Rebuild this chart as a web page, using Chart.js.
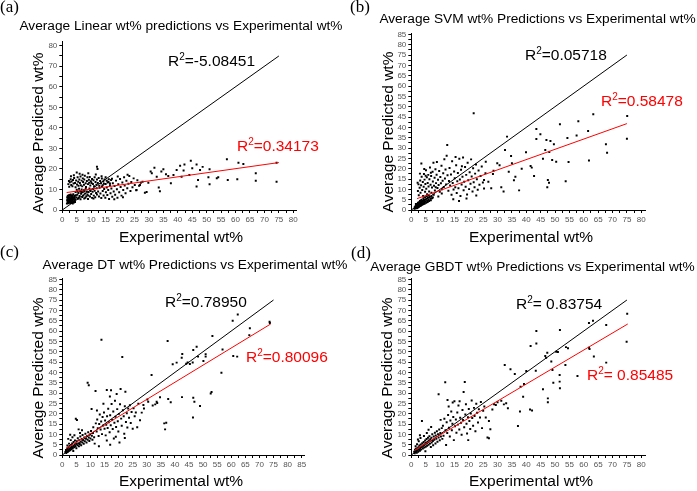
<!DOCTYPE html>
<html>
<head>
<meta charset="utf-8">
<script src="https://cdn.jsdelivr.net/npm/chart.js@4.4.1/dist/chart.umd.min.js"></script>
<style>
  body { margin: 0; background: #fff; }
  #wrap { position: relative; width: 697px; height: 491px; }
  canvas { position: absolute; }
</style>
</head>
<body>
<div id="wrap">
  <canvas id="cA" width="348" height="245" style="left:0;top:0"></canvas>
  <canvas id="cB" width="349" height="245" style="left:348px;top:0"></canvas>
  <canvas id="cC" width="348" height="246" style="left:0;top:245px"></canvas>
  <canvas id="cD" width="349" height="246" style="left:348px;top:245px"></canvas>
</div>
<script>
// tick labels
const xTicks80 = [0,5,10,15,20,25,30,35,40,45,50,55,60,65,70,75,80];
const xTicks85 = [0,5,10,15,20,25,30,35,40,45,50,55,60,65,70,75,80,85];
const yTicks80 = [0,10,20,30,40,50,60,70,80];
const yTicks85 = [0,5,10,15,20,25,30,35,40,45,50,55,60,65,70,75,80,85];

// y = x reference line and linear fits [x, y]
const identityLine = [[0,0],[75,75]];
const linearFit = [[1.5,8.5],[75,23.1]];
const svmFit = [[2,5.5],[75,41.8]];
const dtFit = [[1.3,3.1],[74,63.4]];
const gbdtFit = [[1.2,2.4],[75.3,63.4]];

// R^2 labels
const r2Linear = ['R²=-5.08451', 'R²=0.34173'];
const r2Svm = ['R²=0.05718', 'R²=0.58478'];
const r2Dt = ['R²=0.78950', 'R²=0.80096'];
const r2Gbdt = ['R²= 0.83754', 'R²= 0.85485'];

// experimental vs predicted points [x, y]
const linearPts = [
  // low blob
  [1.6,3.1],[1.7,4.6],[1.7,6.2],[1.8,3.7],[1.8,5.3],[1.9,7.0],[2.0,4.1],[2.0,5.9],[2.1,3.3],[2.1,6.7],
  [2.2,4.8],[2.3,3.9],[2.3,5.6],[2.4,7.3],[2.4,4.3],[2.5,6.1],[2.5,3.5],[2.6,5.0],[2.7,6.9],[2.7,4.4],
  [2.8,3.8],[2.8,5.7],[2.9,7.6],[3.0,4.9],[3.0,3.4],[3.1,6.3],[3.2,5.2],[3.2,4.0],[3.3,7.1],[3.4,3.6],
  [3.4,5.8],[3.5,4.5],[3.6,6.6],[3.6,3.2],[3.7,5.1],[3.8,7.7],[3.8,4.2],[3.9,6.0],[4.0,3.7],[4.1,5.5],
  [4.2,7.0],[4.2,4.7],[4.3,6.3],[4.4,3.9],[4.5,5.3],[1.9,4.9],[2.6,4.6],[3.3,5.5],[2.2,6.4],[3.5,6.9],
  // upper band
  [2.1,12.6],[2.3,14.1],[2.4,11.3],[2.6,13.5],[2.9,15.0],[3.1,12.2],[3.2,13.9],[3.5,11.6],[3.7,14.6],[3.9,12.9],
  [4.1,15.6],[4.4,13.2],[4.6,11.1],[4.8,14.4],[5.1,12.4],[5.3,15.9],[5.5,13.7],[5.6,11.8],[5.9,14.9],[6.1,13.1],
  [6.3,16.3],[6.4,12.0],[6.7,14.3],[6.9,11.5],[7.1,15.4],[7.2,13.6],[7.5,12.3],[7.6,14.8],[7.8,16.7],[8.1,13.0],
  [8.2,11.2],[8.5,14.1],[8.7,15.9],[8.9,12.6],[9.2,14.7],[9.3,13.3],[9.5,16.1],[9.7,11.9],[9.9,14.0],[10.1,13.1],
  [10.3,15.1],[10.6,12.7],[10.8,14.5],[11.0,11.6],[11.2,16.0],[11.5,13.6],[11.8,12.3],[12.0,14.8],[12.3,13.2],[12.6,15.6],
  [12.8,11.8],[13.1,14.1],[13.4,13.0],[13.7,15.3],[14.0,12.1],[14.2,13.9],[14.6,14.9],[15.0,12.7],[15.4,14.2],[15.7,13.4],
  [16.1,15.0],[16.5,12.9],[16.9,14.6],[4.0,16.9],[6.0,17.6],[5.0,18.3],[7.0,17.2],[9.0,17.9],[3.0,16.4],[11.6,17.3],
  [12.0,21.1],[12.2,20.0],
  // middle
  [4.6,8.7],[4.9,6.1],[5.0,9.9],[5.2,7.4],[5.4,5.5],[5.6,8.3],[5.8,10.4],[6.0,6.8],[6.2,9.1],[6.3,5.2],
  [6.5,7.9],[6.7,10.0],[6.9,6.3],[7.1,8.6],[7.3,7.1],[7.5,9.6],[7.6,5.6],[7.9,8.0],[8.1,10.3],[8.3,6.7],
  [8.5,9.0],[8.7,7.5],[8.9,5.4],[9.1,8.7],[9.4,10.5],[9.6,6.6],[9.8,9.3],[10.0,7.8],[10.3,5.9],[10.5,8.9],
  [10.7,10.2],[10.9,7.0],[11.2,9.4],[11.4,6.2],[11.7,8.3],[11.9,10.6],[12.0,7.5],[5.3,9.0],[6.6,8.8],[8.0,6.0],
  [4.7,7.2],[5.7,6.0],[7.7,9.3],[9.0,7.0],[10.8,5.6],
  // right of the cluster
  [12.4,9.0],[12.7,6.6],[12.9,10.8],[13.2,8.0],[13.5,5.8],[13.7,11.4],[14.0,9.3],[14.3,7.1],[14.5,10.2],[14.9,6.0],
  [15.1,8.6],[15.4,11.0],[15.6,7.3],[15.9,9.7],[16.2,5.4],[16.5,12.1],[16.7,8.2],[17.0,10.5],[17.3,6.5],[17.5,13.0],
  [17.8,9.0],[18.1,11.7],[18.3,7.4],[18.6,14.3],[18.9,10.1],[19.1,6.0],[19.4,12.6],[19.7,8.6],[20.0,15.1],[20.2,11.2],
  [20.5,7.0],[20.8,13.4],[21.1,9.7],[21.4,16.0],[21.6,11.9],[21.9,8.2],[22.2,14.2],[22.5,10.6],[22.9,12.8],[23.2,16.6],
  [23.6,9.3],[23.9,13.6],[24.3,11.1],[24.7,15.4],[25.1,12.2],[25.6,9.6],[26.0,14.5],[26.6,11.8],[27.2,13.3],[17.2,15.2],
  [19.2,16.3],[15.0,15.9],[13.6,16.4],[18.0,5.2],[21.0,6.2],[16.0,13.6],[14.4,12.8],[22.6,17.2],
  // sparse
  [74.2,13.8],[74.2,23.0],[67.0,17.9],[67.0,14.2],[62.7,22.4],[61.0,23.0],[60.6,15.0],[57.0,24.7],[57.3,14.6],[54.0,16.0],
  [53.5,15.5],[51.0,19.8],[50.6,16.0],[51.0,12.5],[48.6,21.0],[47.7,19.5],[46.5,22.2],[47.0,14.6],[46.5,11.4],[44.5,24.0],
  [45.0,20.3],[44.0,17.0],[42.3,22.2],[42.0,19.2],[40.8,21.6],[41.3,16.2],[39.6,19.5],[38.5,17.0],[37.6,13.0],[36.7,16.6],
  [35.9,17.4],[35.0,19.8],[34.3,18.7],[33.8,9.1],[33.4,11.0],[32.7,16.2],[31.9,20.6],[31.0,17.9],[30.6,18.7],[29.8,13.3],
  [29.2,8.8],[28.6,8.4],[27.8,13.8],[26.9,12.2],[25.7,9.7]
];

const svmPts = [
  // diagonal blob
  [1.1,0.6],[1.2,1.3],[1.3,0.9],[1.4,1.7],[1.5,1.1],[1.6,2.0],[1.7,1.4],[1.8,0.8],[1.9,2.3],[2.0,1.6],
  [2.1,1.0],[2.2,2.6],[2.3,1.9],[2.4,1.3],[2.5,2.9],[2.6,2.2],[2.7,1.6],[2.8,3.1],[2.9,2.5],[3.0,1.9],
  [3.1,3.4],[3.2,2.7],[3.3,2.1],[3.4,3.7],[3.5,3.0],[3.6,2.4],[3.7,4.1],[3.8,3.3],[3.9,2.7],[4.0,4.4],
  [4.2,3.6],[4.3,2.9],[4.4,4.8],[4.6,3.9],[4.7,3.2],[4.9,5.1],[5.0,4.2],[5.2,3.5],[5.3,5.5],[5.5,4.6],
  [5.7,3.9],[5.8,5.9],[6.0,5.0],[6.2,4.3],[6.4,6.3],[6.6,5.4],[6.8,4.7],[7.0,6.6],[7.2,5.7],[7.5,6.1],
  [1.6,2.9],[2.3,3.5],[3.0,4.3],[3.6,5.0],[4.2,5.7],[4.8,6.2],[5.4,6.7],[2.0,2.9],[2.7,3.8],[3.3,4.6],
  // upper cluster
  [2.3,9.2],[2.5,12.4],[2.6,7.1],[2.9,10.8],[3.1,14.3],[3.2,8.4],[3.4,12.0],[3.5,22.5],[3.6,16.1],[3.8,9.7],
  [4.0,13.5],[4.1,6.8],[4.3,11.2],[4.4,17.4],[4.6,14.7],[4.8,8.8],[4.9,12.6],[5.1,19.2],[5.2,10.3],[5.4,15.8],
  [5.5,7.6],[5.7,13.1],[5.9,17.0],[6.0,11.4],[6.2,9.0],[6.3,14.9],[6.5,20.6],[6.7,12.2],[6.9,16.4],[7.0,8.3],
  [7.2,10.9],[7.4,18.5],[7.5,13.8],[7.7,22.9],[7.9,11.7],[8.1,15.6],[8.2,9.4],[8.4,19.7],[8.6,13.0],[8.8,17.1],
  [8.9,23.2],[9.1,10.6],[9.3,14.6],[9.5,12.1],[9.7,18.9],[9.9,8.8],[10.1,16.0],[10.3,12.9],[10.5,21.4],[10.7,10.0],
  [10.9,14.2],[11.1,17.8],[11.3,11.1],[11.5,24.6],[11.7,15.2],[11.9,19.6],[12.1,12.4],[12.3,26.2],[12.5,31.4],[12.6,16.8],
  [3.0,17.6],[4.5,19.8],[2.2,13.2],[6.1,7.0],[7.8,7.4],[9.4,6.5],[10.6,8.0],[5.0,16.6],[6.8,18.0],[8.5,11.0],
  [12.9,9.3],[13.1,14.0],[13.3,20.3],[13.5,11.8],[13.8,17.2],[14.0,7.4],[14.2,23.6],[14.4,13.1],[14.7,9.9],[14.9,18.6],
  [15.1,15.4],[15.3,11.0],[15.6,21.7],[15.8,8.2],[16.0,13.9],[16.2,17.9],[16.4,10.5],[16.7,24.8],[16.9,14.8],[17.1,6.8],
  [17.3,19.5],[17.5,12.3],[17.8,16.1],[18.0,25.4],[18.2,9.6],[18.4,13.7],[18.7,20.8],[18.9,11.2],[19.1,17.0],[19.4,7.5],
  [19.6,22.9],[19.8,14.4],[20.1,10.1],[20.3,18.3],[20.6,12.7],[20.8,24.5],[21.0,16.2],[21.3,9.0],[21.5,20.2],[21.7,13.4],
  [22.0,11.0],[22.2,17.6],[22.5,22.0],[22.8,14.9],[23.1,9.8],[23.4,19.1],[23.7,12.2],[24.1,16.5],[24.5,21.0],[24.9,13.3],
  [25.3,10.4],[25.8,17.8],[14.6,5.2],[16.6,4.4],[19.2,5.6],[22.6,7.0],[17.6,21.2],[15.4,25.6],[21.7,46.8],
  // sparse
  [75.1,45.5],[75.0,34.5],[63.3,46.3],[58.1,42.9],[61.5,38.2],[57.5,36.0],[54.3,34.8],[67.7,31.8],[68.1,27.7],[61.8,23.9],
  [51.7,41.5],[49.6,31.8],[50.4,23.4],[54.7,23.2],[48.4,33.4],[47.0,33.9],[46.6,29.0],[45.8,24.8],[44.9,36.6],[43.5,39.2],
  [43.5,34.4],[47.5,14.5],[47.9,13.2],[47.3,11.0],[53.7,13.9],[41.5,21.3],[41.9,20.5],[39.9,27.9],[38.4,20.0],[42.7,16.5],
  [37.5,9.5],[36.2,16.1],[35.7,14.4],[35.0,22.6],[34.7,26.1],[33.3,35.5],[32.6,29.0],[33.9,18.5],[32.1,8.9],[31.3,11.0],
  [30.7,21.6],[29.9,22.6],[28.6,19.0],[28.4,17.4],[27.8,10.5],[26.8,13.7],[25.9,23.4],[25.3,14.5],[49.0,24.2],[48.0,28.0]
];

const dtPts = [
  // tight diagonal
  [1.1,1.4],[1.3,2.4],[1.4,1.0],[1.6,1.9],[1.7,3.1],[1.9,1.5],[2.0,2.6],[2.2,3.6],[2.3,1.9],[2.5,2.9],
  [2.6,4.3],[2.8,2.3],[2.9,3.4],[3.1,4.9],[3.2,2.8],[3.4,3.9],[3.5,5.6],[3.7,3.2],[3.9,4.4],[4.0,6.3],
  [4.2,3.7],[4.4,5.0],[4.5,7.0],[4.7,4.1],[4.9,5.6],[5.0,3.3],[5.2,6.6],[5.4,4.7],[5.5,8.1],[5.7,5.6],
  [5.9,4.2],[6.0,7.2],[6.2,5.3],[6.4,9.0],[6.5,6.4],[6.7,4.7],[6.9,7.8],[7.1,6.0],[7.2,9.7],[7.4,7.1],
  [7.6,5.4],[7.8,8.5],[8.0,6.7],[8.2,10.3],[8.4,7.8],[8.6,6.1],[8.8,9.2],[9.0,7.4],[9.2,11.0],[9.4,8.5],
  [9.6,6.8],[9.8,9.9],[10.0,8.0],[10.2,11.6],[10.5,9.3],[10.7,7.4],[10.9,10.6],[2.4,5.5],[3.0,7.2],[3.6,8.6],
  [4.3,9.6],[4.8,17.5],[5.2,16.9],[5.8,12.4],[6.3,10.6],[7.0,12.0],[2.1,7.8],[2.8,9.8],[3.9,1.9],[1.8,4.6],
  // spread
  [11.0,13.4],[11.3,8.6],[11.5,5.5],[11.8,31.0],[11.9,15.3],[12.2,11.4],[12.4,17.2],[12.6,13.0],[12.9,9.2],[13.1,15.0],
  [13.3,19.6],[13.6,12.3],[13.8,16.2],[13.9,55.8],[14.1,10.1],[14.3,18.4],[14.5,14.3],[14.8,20.6],[15.0,12.7],[15.2,16.7],
  [15.4,9.5],[15.6,14.6],[15.8,31.5],[15.9,18.8],[16.1,13.1],[16.3,22.4],[16.5,15.8],[16.8,11.0],[17.0,19.2],[17.2,14.4],
  [17.3,31.3],[17.5,24.7],[17.7,17.0],[17.9,12.6],[18.1,21.0],[18.3,8.0],[18.5,15.6],[18.7,26.3],[18.9,18.5],[19.1,13.6],
  [19.3,29.5],[19.5,22.2],[19.7,16.3],[19.9,11.4],[20.1,19.9],[20.3,6.0],[20.5,24.6],[20.7,31.9],[20.9,17.6],[21.1,14.2],
  [21.3,47.4],[21.5,21.6],[21.8,18.7],[22.0,10.3],[22.2,23.6],[22.4,30.6],[22.6,16.0],[22.9,20.2],[23.1,13.3],[23.4,22.5],
  [23.7,18.0],[24.0,24.1],[24.3,15.5],[24.6,20.8],[25.0,12.7],[25.3,22.6],[25.7,18.8],[26.1,20.6],[26.6,13.4],[27.0,24.8],
  [27.6,16.8],[28.2,20.5],[17.0,5.0],[13.0,4.2],[22.2,8.2],[19.0,8.8],[15.8,7.0],[9.0,35.0],[9.4,33.8],[10.4,22.3],
  [12.3,21.5],[14.6,24.8],[16.9,28.3],
  // sparse
  [73.6,64.5],[73.7,63.9],[62.3,68.0],[60.5,65.0],[66.6,61.3],[66.4,58.0],[60.7,47.9],[62.1,47.6],[53.3,57.6],[56.9,51.1],
  [56.5,39.8],[52.7,29.8],[50.9,48.7],[50.9,47.6],[50.1,45.5],[47.7,52.4],[48.2,47.6],[46.5,50.8],[46.3,44.8],[42.6,48.9],
  [42.4,47.1],[44.0,44.2],[44.5,44.8],[45.3,44.0],[40.6,44.7],[39.2,43.9],[37.4,55.2],[31.7,38.7],[46.5,27.7],[46.9,25.8],
  [46.4,18.1],[42.5,28.0],[36.9,15.6],[36.5,12.4],[33.5,25.8],[33.0,24.5],[32.1,23.9],[34.7,27.9],[30.2,26.8],[30.5,25.8],
  [38.5,25.5],[29.0,22.5],[53.0,30.5],[28.8,24.2],[36.2,15.3],[37.6,27.1],[33.7,25.2],[48.9,23.7]
];

const gbdtPts = [
  // tight diagonal
  [1.0,1.6],[1.2,0.9],[1.3,2.5],[1.5,1.4],[1.6,3.0],[1.8,2.0],[1.9,1.1],[2.1,3.3],[2.2,2.3],[2.4,1.6],
  [2.5,3.8],[2.7,2.7],[2.8,4.6],[3.0,2.0],[3.1,3.5],[3.3,5.1],[3.4,2.6],[3.6,4.0],[3.7,16.5],[3.8,5.7],
  [4.0,3.1],[4.1,4.6],[4.3,6.3],[4.5,3.6],[4.6,5.2],[4.8,7.0],[5.0,4.0],[5.1,5.8],[5.3,7.7],[5.5,4.5],
  [5.6,6.4],[5.8,8.4],[6.0,5.0],[6.1,7.0],[6.3,9.1],[6.5,5.5],[6.6,7.6],[6.8,3.9],[7.0,8.3],[7.1,6.1],
  [7.3,10.0],[7.5,6.8],[7.6,4.7],[7.8,8.9],[8.0,7.4],[8.2,10.8],[8.4,5.6],[8.5,9.4],[8.7,7.9],[8.9,11.5],
  [9.1,6.4],[9.3,10.1],[9.5,8.5],[9.7,12.3],[9.9,7.1],[10.1,10.7],[10.3,9.0],[10.6,13.0],[10.8,7.8],[2.0,5.2],
  [2.6,6.6],[3.2,8.2],[4.4,9.2],[5.4,10.6],[6.0,12.2],[6.9,13.6],[3.0,9.6],[2.3,7.5],[4.9,1.8],[1.5,4.2],
  // spread
  [9.5,29.4],[11.0,14.2],[11.2,9.3],[11.5,17.5],[11.8,35.2],[11.9,12.0],[12.1,4.8],[12.3,15.8],[12.5,10.6],[12.8,19.3],
  [13.0,23.5],[13.1,13.2],[13.4,8.9],[13.6,16.7],[13.9,21.0],[14.1,12.0],[14.3,15.1],[14.6,18.4],[14.8,7.2],[15.0,26.0],
  [15.2,13.9],[15.5,17.2],[15.7,10.8],[16.0,20.6],[16.2,14.7],[16.4,23.9],[16.7,12.3],[16.8,26.0],[17.0,18.0],[17.3,15.6],
  [17.5,9.8],[17.8,21.8],[18.0,16.9],[18.2,30.5],[18.4,13.4],[18.6,35.3],[18.8,19.6],[19.0,24.6],[19.2,15.1],[19.4,10.4],
  [19.7,18.3],[19.8,7.2],[20.0,22.3],[20.2,16.4],[20.5,12.6],[20.7,20.1],[21.0,26.4],[21.2,17.9],[21.5,14.1],[21.8,22.8],
  [22.0,18.9],[22.3,11.5],[22.6,24.8],[22.9,20.4],[23.2,15.7],[23.5,22.1],[23.9,18.2],[24.2,25.6],[24.6,13.0],[25.0,21.4],
  [25.4,23.5],[25.9,18.1],[26.5,8.5],[27.0,16.4],[27.5,12.5],[28.2,22.0],[28.8,24.6],[10.2,17.0],[12.6,26.6],[14.4,25.4],
  // sparse
  [75.1,68.4],[74.9,54.8],[67.8,62.9],[63.2,65.0],[61.8,63.9],[63.5,47.7],[61.8,51.9],[67.8,44.7],[57.8,38.2],[51.7,60.5],
  [43.5,60.0],[43.5,54.0],[41.5,52.7],[54.5,51.6],[53.8,52.2],[50.4,50.0],[51.0,49.8],[47.3,49.5],[46.6,47.9],[48.7,45.2],
  [49.1,41.1],[53.6,43.5],[51.6,38.7],[51.6,35.5],[49.4,35.0],[47.5,27.4],[47.5,25.5],[45.8,31.8],[43.3,40.8],[40.0,40.6],
  [38.9,28.2],[38.0,33.0],[42.0,21.5],[41.3,22.0],[37.8,21.0],[37.1,14.0],[36.0,39.2],[32.5,43.5],[34.5,41.5],[31.3,26.3],
  [33.0,25.0],[29.4,24.2],[27.0,8.1],[32.2,24.5],[30.0,25.5],[46.9,47.0],[51.7,32.3],[62.0,51.3],[39.2,34.4],[33.6,22.6]
];

/* --- helpers --- */
const toXY = arr => arr.map(p => ({ x: p[0], y: p[1] }));

// majors plus a minor tick half way between each pair
function withMinors(majors) {
    const out = [];
    majors.forEach((v, i) => {
        out.push({ value: v });
        if (i < majors.length - 1) out.push({ value: (v + majors[i + 1]) / 2 });
    });
    return out;
}

const sans = '"Liberation Sans", Arial, sans-serif';

// draws "R" + raised small "2" + rest, like the Origin labels
function drawR2(ctx, text, x, y, color) {
    const parts = text.split('²');
    ctx.fillStyle = color;
    ctx.font = '15.5px ' + sans;
    ctx.fillText(parts[0], x, y);
    x += ctx.measureText(parts[0]).width;
    ctx.font = '10px ' + sans;
    ctx.fillText('2', x, y - 5);
    x += ctx.measureText('2').width;
    ctx.font = '15.5px ' + sans;
    ctx.fillText(parts[1], x, y);
}

const panelText = {
    id: 'panelText',
    afterDraw(chart, args, o) {
        const ctx = chart.ctx;
        ctx.save();
        ctx.textBaseline = 'middle';
        ctx.fillStyle = '#000';

        ctx.textAlign = 'left';
        ctx.font = '17px "Liberation Serif", "Times New Roman", serif';
        ctx.fillText(o.label, o.labelPos[0], o.labelPos[1]);

        ctx.textAlign = 'center';
        ctx.font = '13.7px ' + sans;
        ctx.fillText(o.title, o.titlePos[0], o.titlePos[1]);

        ctx.font = '15.5px ' + sans;
        ctx.fillText('Experimental wt%', o.xTitlePos[0], o.xTitlePos[1]);
        ctx.save();
        ctx.translate(o.yTitlePos[0], o.yTitlePos[1]);
        ctx.rotate(-Math.PI / 2);
        ctx.fillText('Average Predicted wt%', 0, 0);
        ctx.restore();

        ctx.textAlign = 'left';
        drawR2(ctx, o.r2[0], o.r2BlackPos[0], o.r2BlackPos[1], '#000');
        drawR2(ctx, o.r2[1], o.r2RedPos[0], o.r2RedPos[1], '#ff0000');
        ctx.restore();
    }
};

function makePanel(id, p) {
    const canvas = document.getElementById(id);
    const xMajor = new Set(p.xTicks);
    const yMajor = new Set(p.yTicks);
    new Chart(canvas, {
        type: 'scatter',
        data: {
            datasets: [
                { data: toXY(p.fit), showLine: true, borderColor: '#ff0000', borderWidth: 1, pointRadius: 0 },
                { data: toXY(identityLine), showLine: true, borderColor: '#000', borderWidth: 1, pointRadius: 0 },
                { data: toXY(p.points), backgroundColor: '#000', borderWidth: 0, pointStyle: 'rect', pointRadius: 1.4 }
            ]
        },
        options: {
            responsive: false,
            animation: false,
            devicePixelRatio: 1,
            layout: { padding: { left: 0, top: p.top, right: canvas.width - p.right, bottom: 0 } },
            plugins: {
                legend: { display: false },
                tooltip: { enabled: false },
                panelText: p.text
            },
            scales: {
                x: {
                    type: 'linear', min: 0, max: p.xMax,
                    afterBuildTicks: s => { s.ticks = withMinors(p.xTicks); },
                    afterFit: s => { s.height = canvas.height - p.bottom; },
                    ticks: {
                        autoSkip: false, maxRotation: 0, padding: 2, color: '#555',
                        font: { family: sans, size: 8 },
                        callback: v => xMajor.has(v) ? String(v) : ''
                    },
                    grid: { drawOnChartArea: false, tickLength: 3, color: '#000' },
                    border: { color: '#000', width: 1 }
                },
                y: {
                    type: 'linear', min: 0, max: p.yMax,
                    afterBuildTicks: s => { s.ticks = withMinors(p.yTicks); },
                    afterFit: s => { s.width = p.left; },
                    ticks: {
                        autoSkip: false, padding: 2, color: '#555',
                        font: { family: sans, size: 8 },
                        callback: v => yMajor.has(v) ? String(v) : ''
                    },
                    grid: { drawOnChartArea: false, tickLength: 3, color: '#000' },
                    border: { color: '#000', width: 1 }
                }
            }
        },
        plugins: [panelText]
    });
}

/* --- panels --- */
makePanel('cA', {
    points: linearPts, fit: linearFit, xTicks: xTicks80, yTicks: yTicks80,
    xMax: 81, yMax: 82, left: 62.3, right: 296.2, top: 41.6, bottom: 210,
    text: {
        label: '(a)', labelPos: [0, 8],
        title: 'Average Linear wt% predictions vs Experimental wt%', titlePos: [181, 26],
        xTitlePos: [181, 238], yTitlePos: [39, 133],
        r2: r2Linear, r2BlackPos: [168, 62], r2RedPos: [237, 147]
    }
});

makePanel('cB', {
    points: svmPts, fit: svmFit, xTicks: xTicks80, yTicks: yTicks85,
    xMax: 81.5, yMax: 85.5, left: 63.3, right: 297.6, top: 33.3, bottom: 210,
    text: {
        label: '(b)', labelPos: [2, 8],
        title: 'Average SVM wt% Predictions vs Experimental wt%', titlePos: [189.5, 19],
        xTitlePos: [183, 238], yTitlePos: [40.5, 132],
        r2: r2Svm, r2BlackPos: [177, 56], r2RedPos: [253, 102]
    }
});

makePanel('cC', {
    points: dtPts, fit: dtFit, xTicks: xTicks85, yTicks: yTicks85,
    xMax: 86, yMax: 85.5, left: 62.3, right: 304.5, top: 33.3, bottom: 210,
    text: {
        label: '(c)', labelPos: [0, 8],
        title: 'Average DT wt% Predictions vs Experimental wt%', titlePos: [195, 20.7],
        xTitlePos: [181, 237], yTitlePos: [39, 133],
        r2: r2Dt, r2BlackPos: [165, 58], r2RedPos: [246, 113]
    }
});

makePanel('cD', {
    points: gbdtPts, fit: gbdtFit, xTicks: xTicks80, yTicks: yTicks85,
    xMax: 81.5, yMax: 85.5, left: 63.3, right: 297.6, top: 33.3, bottom: 210,
    text: {
        label: '(d)', labelPos: [3, 9],
        title: 'Average GBDT wt% Predictions vs Experimental wt%', titlePos: [184.5, 22.7],
        xTitlePos: [183, 237], yTitlePos: [39.3, 133],
        r2: r2Gbdt, r2BlackPos: [168, 60], r2RedPos: [239, 131]
    }
});
</script>
</body>
</html>
